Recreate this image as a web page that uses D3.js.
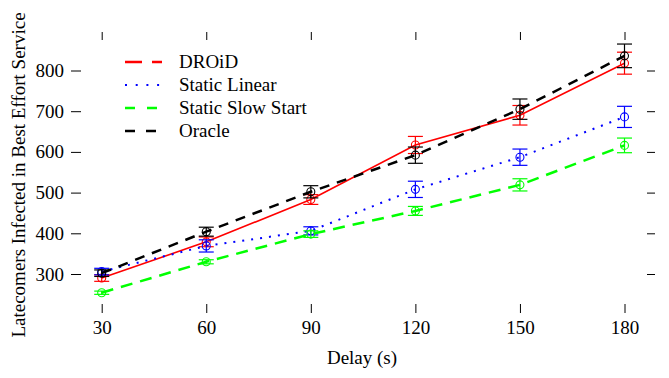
<!DOCTYPE html>
<html>
<head>
<meta charset="utf-8">
<script src="https://cdn.jsdelivr.net/npm/d3@7"></script>
<style>
  body { margin: 0; background: #fff; }
</style>
</head>
<body>
<div id="container"></div>
<script>
// delay values on the x axis
const delays = [30, 60, 90, 120, 150, 180];
const yTicks = [300, 400, 500, 600, 700, 800];

// mean values
const droid = [290, 379, 483, 617, 690, 818];
const staticLinear = [306, 369, 406, 508, 587, 686];
const staticSlowStart = [254, 330, 398, 455, 519, 616];
const oracle = [302, 404, 502, 592, 705, 836];

// half-width of the error bars
const droidErr = [8, 12, 12, 21, 24, 27];
const staticLinearErr = [8, 15, 10, 20, 20, 26];
const staticSlowStartErr = [4, 5, 8, 11, 15, 18];
const oracleErr = [8, 11, 15, 20, 25, 29];

const seriesNames = ['DROiD', 'Static Linear', 'Static Slow Start', 'Oracle'];

const width = 669;
const height = 378;
const FONT = '"Liberation Serif", "Times New Roman", serif';
const FONT_SIZE = 19;

const series = [
  { name: seriesNames[0], values: droid, err: droidErr, color: '#ff0000', dash: null, legendDash: '17,10', width: 1.6, legendWidth: 2.5 },
  { name: seriesNames[1], values: staticLinear, err: staticLinearErr, color: '#0000ff', dash: '2,7', legendDash: '2,8.7', width: 2, legendWidth: 2 },
  { name: seriesNames[2], values: staticSlowStart, err: staticSlowStartErr, color: '#00ff00', dash: '12,8', legendDash: '10,12', width: 2.5, legendWidth: 2.5 },
  { name: seriesNames[3], values: oracle, err: oracleErr, color: '#000000', dash: '10,8', legendDash: '10,11', width: 2.5, legendWidth: 2.5 }
];

// plot region (R style, no frame, outward ticks on all four sides)
const plotLeft = 81, plotRight = 647, plotTop = 40, plotBottom = 304;

const x = d3.scaleLinear().domain([30, 180]).range([101.7, 624.5]);
const y = d3.scaleLinear().domain([300, 800]).range([274, 70.5]);

const svg = d3.select('#container')
  .append('svg')
  .attr('width', width)
  .attr('height', height)
  .style('font-family', FONT);

const styleText = g => g.selectAll('text')
  .style('font-family', FONT)
  .style('font-size', FONT_SIZE + 'px')
  .attr('fill', '#000');

// bottom axis
svg.append('g')
  .attr('transform', `translate(0,${plotBottom})`)
  .call(d3.axisBottom(x).tickValues(delays).tickSize(9).tickPadding(8))
  .call(g => g.select('.domain').remove())
  .call(styleText);

// top ticks only
svg.append('g')
  .attr('transform', `translate(0,${plotTop})`)
  .call(d3.axisTop(x).tickValues(delays).tickSize(8).tickFormat(''))
  .call(g => g.select('.domain').remove());

// left axis
svg.append('g')
  .attr('transform', `translate(${plotLeft},0)`)
  .call(d3.axisLeft(y).tickValues(yTicks).tickSize(10).tickPadding(7))
  .call(g => g.select('.domain').remove())
  .call(styleText);

// right ticks only
svg.append('g')
  .attr('transform', `translate(${plotRight},0)`)
  .call(d3.axisRight(y).tickValues(yTicks).tickSize(8).tickFormat(''))
  .call(g => g.select('.domain').remove());

// axis titles
svg.append('text')
  .attr('x', 362)
  .attr('y', 364)
  .attr('text-anchor', 'middle')
  .style('font-family', FONT)
  .style('font-size', FONT_SIZE + 'px')
  .text('Delay (s)');

svg.append('text')
  .attr('transform', `translate(25,175) rotate(-90)`)
  .attr('text-anchor', 'middle')
  .style('font-family', FONT)
  .style('font-size', FONT_SIZE + 'px')
  .text('Latecomers Infected in Best Effort Service');

const line = d3.line()
  .x((d, i) => x(delays[i]))
  .y(d => y(d));

series.forEach(s => {
  const g = svg.append('g');

  g.append('path')
    .datum(s.values)
    .attr('fill', 'none')
    .attr('stroke', s.color)
    .attr('stroke-width', s.width)
    .attr('stroke-dasharray', s.dash)
    .attr('d', line);

  // error bars
  s.values.forEach((v, i) => {
    const cx = x(delays[i]);
    const y0 = y(v - s.err[i]);
    const y1 = y(v + s.err[i]);
    g.append('line')
      .attr('x1', cx).attr('x2', cx)
      .attr('y1', y0).attr('y2', y1)
      .attr('stroke', s.color).attr('stroke-width', 1.2);
    [y0, y1].forEach(yy => {
      g.append('line')
        .attr('x1', cx - 7.5).attr('x2', cx + 7.5)
        .attr('y1', yy).attr('y2', yy)
        .attr('stroke', s.color).attr('stroke-width', 1.2);
    });
  });

  g.selectAll('circle')
    .data(s.values)
    .join('circle')
    .attr('cx', (d, i) => x(delays[i]))
    .attr('cy', d => y(d))
    .attr('r', 4)
    .attr('fill', 'none')
    .attr('stroke', s.color)
    .attr('stroke-width', 1.1);
});

// legend
const legend = svg.append('g');
series.forEach((s, i) => {
  const ly = 62 + i * 23;
  legend.append('line')
    .attr('x1', 125).attr('x2', 162)
    .attr('y1', ly).attr('y2', ly)
    .attr('stroke', s.color)
    .attr('stroke-width', s.legendWidth)
    .attr('stroke-dasharray', s.legendDash);
  legend.append('text')
    .attr('x', 179)
    .attr('y', ly + 6)
    .style('font-family', FONT)
    .style('font-size', FONT_SIZE + 'px')
    .text(s.name);
});
</script>
</body>
</html>
